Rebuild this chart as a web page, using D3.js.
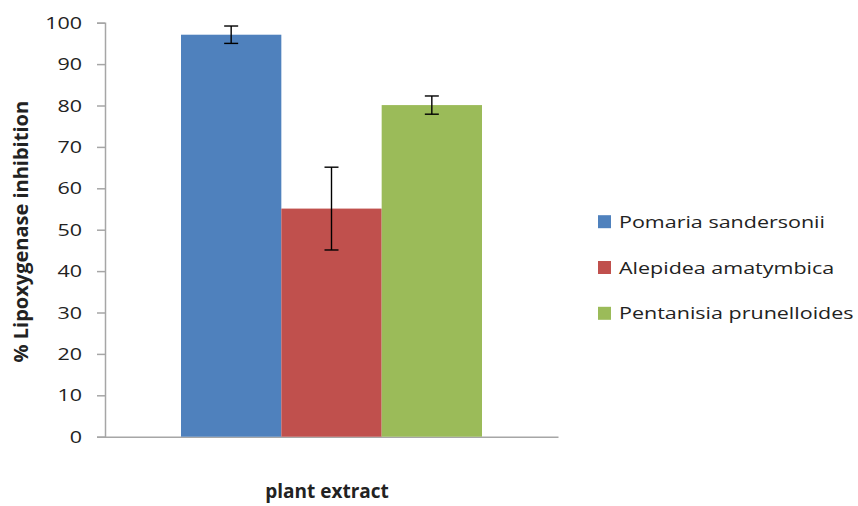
<!DOCTYPE html>
<html>
<head>
<meta charset="utf-8">
<script src="https://cdn.jsdelivr.net/npm/d3@7"></script>
<style>
  html, body { margin: 0; padding: 0; background: #fff; }
  svg { display: block; }
  text { font-family: "Open Sans", "Liberation Sans", sans-serif; fill: #222; }
</style>
</head>
<body>
<svg id="chart" width="858" height="506"></svg>
<script>
// ---- data ----
const groups = ["plant extract"];
const species = ["Pomaria sandersonii", "Alepidea amatymbica", "Pentanisia prunelloides"];
const inhibition = [97.1, 55.1, 80.1];
const errorSD = [2.1, 10.0, 2.2];
const colors = ["#4F81BD", "#C0504D", "#9BBB59"];
const yTicks = [0, 10, 20, 30, 40, 50, 60, 70, 80, 90, 100];
const yTitle = "% Lipoxygenase inhibition";
const xTitle = "plant extract";

// ---- layout ----
const svg = d3.select("#chart");
const plotLeft = 105, plotRight = 558, plotTop = 22.7, plotBottom = 436.7;
const textScaleX = 1.25;

const y = d3.scaleLinear().domain([0, 100]).range([plotBottom, plotTop]);
const x0 = d3.scaleBand().domain(groups).range([plotLeft, plotRight]).paddingInner(0).paddingOuter(0.2525);
const x1 = d3.scaleBand().domain(species).range([0, x0.bandwidth()]).padding(0);

// y axis
const yAxis = d3.axisLeft(y).tickValues(yTicks).tickSize(8).tickPadding(15).tickFormat(d3.format("d"));
const gy = svg.append("g").attr("transform", `translate(${plotLeft},0)`).call(yAxis);
gy.select(".domain").attr("stroke", "#a6a6a6").attr("stroke-width", 1.5);
gy.selectAll(".tick line").attr("stroke", "#a6a6a6").attr("stroke-width", 1.5);
gy.selectAll(".tick text")
  .attr("font-size", 17.2)
  .attr("fill", "#222")
  .style("font-family", '"Open Sans", sans-serif')
  .each(function() {
    const t = d3.select(this);
    const xx = +t.attr("x");
    t.attr("x", 0).attr("transform", `translate(${xx},0) scale(${textScaleX},1)`);
  });

// x axis (no tick labels)
const xAxis = d3.axisBottom(x0).tickSize(0).tickFormat(() => "");
const gx = svg.append("g").attr("transform", `translate(0,${plotBottom})`).call(xAxis);
gx.select(".domain").attr("stroke", "#a6a6a6").attr("stroke-width", 1.5);

// bars
const barData = species.map((s, i) => ({ s, v: inhibition[i], e: errorSD[i], c: colors[i] }));
const g = svg.append("g").attr("transform", `translate(${x0(groups[0])},0)`);
g.selectAll("rect.bar").data(barData).join("rect")
  .attr("class", "bar")
  .attr("x", d => x1(d.s))
  .attr("width", x1.bandwidth())
  .attr("y", d => y(d.v))
  .attr("height", d => y(0) - y(d.v))
  .attr("fill", d => d.c);

// error bars
const capW = 7;
const eb = g.selectAll("g.err").data(barData).join("g").attr("class", "err")
  .attr("transform", d => `translate(${x1(d.s) + x1.bandwidth() / 2},0)`);
eb.append("line").attr("y1", d => y(d.v + d.e)).attr("y2", d => y(d.v - d.e))
  .attr("stroke", "#000").attr("stroke-width", 1.4);
eb.append("line").attr("x1", -capW).attr("x2", capW).attr("y1", d => y(d.v + d.e)).attr("y2", d => y(d.v + d.e))
  .attr("stroke", "#000").attr("stroke-width", 1.4);
eb.append("line").attr("x1", -capW).attr("x2", capW).attr("y1", d => y(d.v - d.e)).attr("y2", d => y(d.v - d.e))
  .attr("stroke", "#000").attr("stroke-width", 1.4);

// titles
svg.append("text")
  .attr("transform", `translate(28,${(plotTop + plotBottom) / 2 + 2}) rotate(-90)`)
  .attr("text-anchor", "middle")
  .attr("font-size", 20)
  .attr("font-weight", "bold")
  .attr("fill", "#000")
  .text(yTitle);

svg.append("text")
  .attr("x", 327)
  .attr("y", 498)
  .attr("text-anchor", "middle")
  .attr("font-size", 19)
  .attr("font-weight", "bold")
  .attr("fill", "#000")
  .text(xTitle);

// legend
const legY = d3.scalePoint().domain(species).range([221.7, 313.3]);
const leg = svg.append("g").selectAll("g").data(barData).join("g")
  .attr("transform", d => `translate(598,${legY(d.s)})`);
leg.append("rect").attr("x", 0).attr("y", -6.5).attr("width", 13).attr("height", 13).attr("fill", d => d.c);
leg.append("text")
  .attr("transform", `translate(21,0) scale(${textScaleX},1)`)
  .attr("dy", "0.35em")
  .attr("font-size", 17.2)
  .attr("fill", "#222")
  .text(d => d.s);
</script>
</body>
</html>
